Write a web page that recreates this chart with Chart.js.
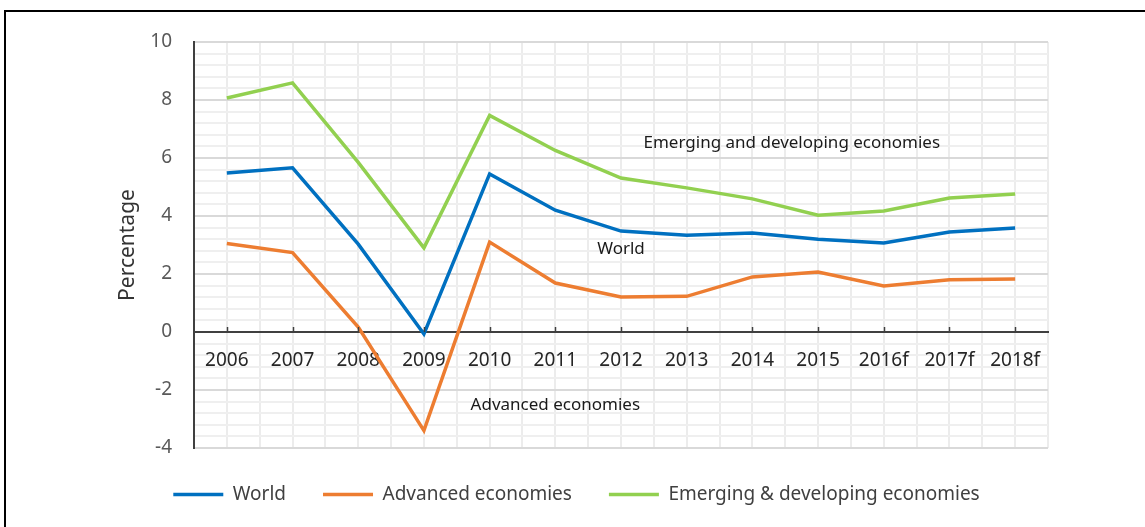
<!doctype html>
<html lang="en">
<head>
    <meta charset="UTF-8">
    <title>Economic growth</title>
    <script src="https://cdn.jsdelivr.net/npm/chart.js"></script>
    <style>
        html, body { margin: 0; padding: 0; background: #fff; overflow: hidden; }
        #wrap { position: relative; width: 1145px; height: 527px; }
        #frame { position: absolute; left: 4px; top: 10px; width: 2000px; height: 1000px;
                 border-top: 2px solid #000; border-left: 2px solid #000; pointer-events: none; }
    </style>
</head>
<body>
<div id="wrap">
    <canvas id="growthChart" width="1145" height="527"></canvas>
    <div id="frame"></div>
</div>

<script>
    const years = ['2006', '2007', '2008', '2009', '2010', '2011', '2012', '2013', '2014', '2015', '2016f', '2017f', '2018f'];
    const world = [5.48, 5.66, 3.03, -0.07, 5.45, 4.2, 3.48, 3.34, 3.41, 3.2, 3.07, 3.45, 3.59];
    const advanced = [3.05, 2.74, 0.17, -3.4, 3.1, 1.69, 1.21, 1.23, 1.9, 2.07, 1.59, 1.8, 1.83];
    const emerging = [8.07, 8.59, 5.85, 2.9, 7.47, 6.26, 5.31, 4.97, 4.59, 4.03, 4.17, 4.62, 4.76];

    // text labels placed inside the plot (x as category index, y as percentage)
    const notes = [
        { text: 'Emerging and developing economies', x: 8.6, y: 6.52 },
        { text: 'World', x: 6.0, y: 2.86 },
        { text: 'Advanced economies', x: 5.0, y: -2.52 }
    ];

    const FONT = "'Noto Sans', sans-serif";

    // small tick marks sitting on top of the zero line + in-plot labels
    const extras = {
        id: 'extras',
        afterInit(chart) {
            const legend = chart.legend;
            const fit = legend.fit;
            legend.fit = function () {
                fit.call(this);
                this.height = 79;
            };
        },
        afterDatasetsDraw(chart) {
            const ctx = chart.ctx;
            const x = chart.scales.x;
            const y = chart.scales.y;
            const y0 = y.getPixelForValue(0);
            ctx.save();
            ctx.strokeStyle = '#404040';
            ctx.lineWidth = 1.5;
            for (let i = 0; i < years.length; i++) {
                const px = Math.round(x.getPixelForTick(i)) + 0.5;
                ctx.beginPath();
                ctx.moveTo(px, y0 - 5);
                ctx.lineTo(px, y0);
                ctx.stroke();
            }
            ctx.fillStyle = '#1a1a1a';
            ctx.font = '17px ' + FONT;
            ctx.textAlign = 'center';
            ctx.textBaseline = 'middle';
            notes.forEach(n => {
                ctx.fillText(n.text, x.getPixelForValue(n.x), y.getPixelForValue(n.y));
            });
            ctx.restore();
        }
    };

    const ctx = document.getElementById('growthChart').getContext('2d');
    new Chart(ctx, {
        type: 'line',
        data: {
            labels: years,
            datasets: [{
                label: 'World',
                data: world,
                borderWidth: 3.5,
                borderColor: '#0070C0',
                backgroundColor: '#0070C0'
            }, {
                label: 'Advanced economies',
                data: advanced,
                borderWidth: 3.5,
                borderColor: '#ED7D31',
                backgroundColor: '#ED7D31'
            }, {
                label: 'Emerging & developing economies',
                data: emerging,
                borderWidth: 3.5,
                borderColor: '#92D050',
                backgroundColor: '#92D050'
            }]
        },
        plugins: [extras],
        options: {
            responsive: false,
            animation: false,
            layout: { padding: { left: 105, right: 97, top: 42, bottom: 0 } },
            elements: {
                line: { tension: 0, fill: false },
                point: { radius: 0, hoverRadius: 0 }
            },
            plugins: {
                tooltip: { enabled: false },
                legend: {
                    position: 'bottom',
                    labels: {
                        usePointStyle: true,
                        pointStyle: 'line',
                        pointStyleWidth: 50,
                        padding: 37,
                        color: '#404040',
                        font: { family: FONT, size: 19 }
                    }
                }
            },
            scales: {
                x: {
                    type: 'category',
                    position: { y: 0 },
                    offset: true,
                    grid: { display: false, drawTicks: false },
                    border: { display: true, color: '#404040', width: 2 },
                    ticks: {
                        color: '#262626',
                        padding: 17,
                        maxRotation: 0,
                        autoSkip: false,
                        font: { family: FONT, size: 19 }
                    }
                },
                xg: {
                    type: 'linear',
                    position: 'top',
                    min: -0.5,
                    max: 12.5,
                    display: true,
                    border: { display: false },
                    grid: { color: '#ececec', lineWidth: 2, drawTicks: false },
                    ticks: { display: false, stepSize: 0.5 }
                },
                yg: {
                    type: 'linear',
                    position: 'right',
                    min: -4,
                    max: 10,
                    display: true,
                    border: { display: false },
                    grid: {
                        drawTicks: false,
                        lineWidth: 2,
                        color: c => (Math.abs(c.tick.value / 2 - Math.round(c.tick.value / 2)) < 1e-6 ? 'rgba(0,0,0,0)' : '#efefef')
                    },
                    ticks: { display: false, stepSize: 0.4 }
                },
                y: {
                    type: 'linear',
                    position: 'left',
                    min: -4,
                    max: 10,
                    afterFit(scale) { scale.width = 89; },
                    grid: { color: '#d9d9d9', lineWidth: 2, drawTicks: false },
                    border: { display: true, color: '#404040', width: 2 },
                    ticks: {
                        stepSize: 2,
                        padding: 22,
                        color: '#595959',
                        font: { family: FONT, size: 19 }
                    },
                    title: {
                        display: true,
                        text: 'Percentage',
                        color: '#333333',
                        padding: { top: 10, bottom: 0 },
                        font: { family: FONT, size: 21 }
                    }
                }
            }
        }
    });
</script>
</body>
</html>
